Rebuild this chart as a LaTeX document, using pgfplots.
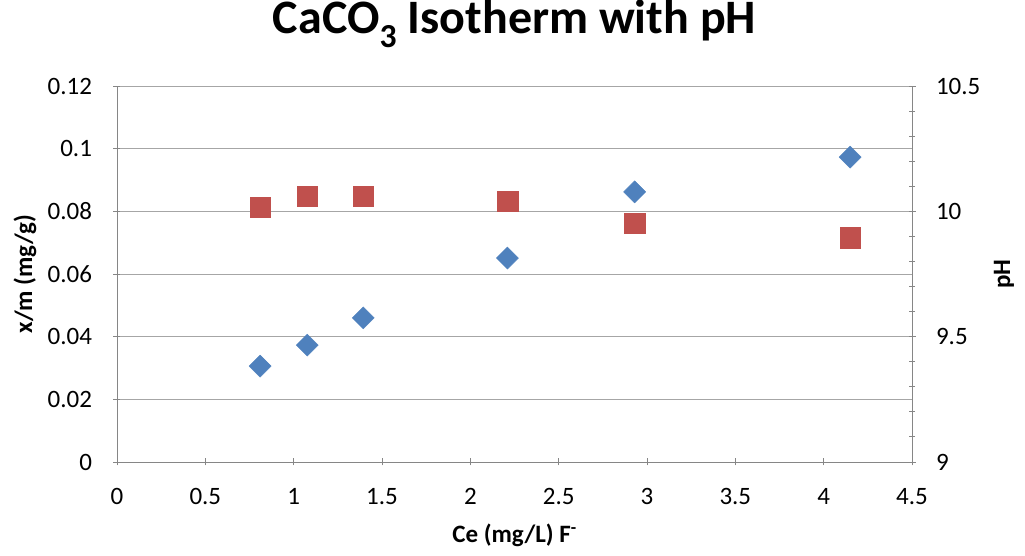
\documentclass[border=0pt]{standalone}
\usepackage{pgfplots}
\pgfplotsset{compat=1.18}
\usepackage{fontspec}
\setmainfont{Carlito}

\definecolor{xmblue}{HTML}{4F81BD}
\definecolor{phred}{HTML}{C0504D}
\definecolor{axgray}{HTML}{868686}
\definecolor{grgray}{HTML}{A6A6A6}

\pgfplotsset{
  common/.style={
    scale only axis,
    width=795pt, height=376pt,
    xmin=0, xmax=4.5,
    axis line style={axgray, line width=0.9pt},
    tick style={axgray, line width=0.9pt},
    tick align=outside,
    major tick length=7pt,
    minor tick length=6pt,
    /pgf/number format/assume math mode=true,
    tick label style={font=\fontsize{25}{30}\selectfont},
    scaled ticks=false,
  },
}

\begin{document}
\begin{tikzpicture}
\begin{axis}[
  common,
  axis x line=bottom, axis y line=left,
  axis line style={-},
  ymin=0, ymax=0.12,
  ytick={0,0.02,...,0.12},
  xtick={0,0.5,...,4.5},
  ymajorgrids, grid style={grgray, line width=0.9pt},
  yticklabel style={/pgf/number format/fixed, /pgf/number format/precision=2, xshift=-18pt},
  xticklabel style={/pgf/number format/fixed, yshift=-19pt},
  xlabel={Ce (mg/L) F\textsuperscript{-}},
  ylabel={x/m (mg/g)},
  xlabel style={at={(axis description cs:0.5,0)}, anchor=base, yshift=-81pt,
    inner sep=0pt, font=\bfseries\fontsize{25}{30}\selectfont},
  ylabel style={at={(axis description cs:0,0.5)}, anchor=center, yshift=92pt,
    inner sep=0pt, font=\bfseries\fontsize{25}{30}\selectfont},
  title={CaCO\textsubscript{3} Isotherm with pH},
  title style={at={(0.5,1)}, anchor=base, yshift=46pt, inner sep=0pt,
    font=\bfseries\fontsize{48}{56}\selectfont},
]
\addplot[only marks, mark=square*, mark size=7.8pt, color=xmblue,
  every mark/.append style={rotate=45}]
coordinates {
  (0.81,0.0306) (1.077,0.0373) (1.394,0.0460)
  (2.21,0.0651) (2.93,0.0862) (4.15,0.0973)
};
\end{axis}
\begin{axis}[
  common,
  axis x line=none, axis y line=right,
  axis line style={-},
  ymin=9, ymax=10.5,
  ytick={9,9.5,10,10.5},
  minor y tick num=4,
  yticklabel style={xshift=17pt},
  ylabel={pH},
  ylabel style={at={(axis description cs:1,0.5)}, anchor=center, yshift=-92pt,
    inner sep=0pt, font=\bfseries\fontsize{25}{30}\selectfont},
]
\addplot[only marks, mark=square*, mark size=10.3pt, color=phred]
coordinates {
  (0.81,10.017) (1.077,10.061) (1.394,10.061)
  (2.21,10.041) (2.93,9.953) (4.15,9.894)
};
\end{axis}
\path ([shift={(-117pt,-94pt)}]current axis.south west) rectangle ([shift={(113pt,86pt)}]current axis.north east);
\end{tikzpicture}
\end{document}
